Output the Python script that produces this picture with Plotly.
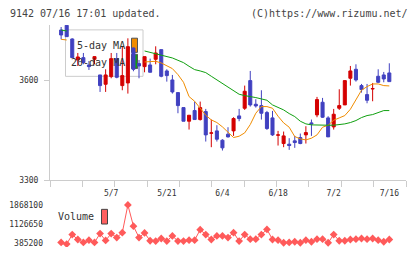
import plotly.graph_objects as go

# ---------------- data ----------------
dates = ["4/21", "4/22", "4/23", "4/24", "4/25", "4/28", "4/30", "5/1", "5/2", "5/7",
         "5/8", "5/9", "5/12", "5/13", "5/14", "5/15", "5/16", "5/19", "5/20", "5/21",
         "5/22", "5/23", "5/26", "5/27", "5/28", "5/29", "5/30", "6/2", "6/3", "6/4",
         "6/5", "6/6", "6/9", "6/10", "6/11", "6/12", "6/13", "6/16", "6/17", "6/18",
         "6/19", "6/20", "6/23", "6/24", "6/25", "6/26", "6/27", "6/30", "7/1", "7/2",
         "7/3", "7/4", "7/7", "7/8", "7/9", "7/10", "7/11", "7/14", "7/15", "7/16"]

open_ = [3752, 3766, 3725, 3662, 3669, 3647, 3664, 3617, 3589, 3612,
         3666, 3585, 3593, 3698, 3651, 3642, 3647, 3664, 3693, 3629,
         3602, 3564, 3519, 3478, 3510, 3483, 3507, 3442, 3449, 3421,
         3439, 3449, 3494, 3517, 3600, 3529, 3525, 3504, 3488, 3436,
         3411, 3409, 3419, 3429, 3437, 3473, 3497, 3535, 3488, 3461,
         3517, 3527, 3607, 3634, 3585, 3558, 3575, 3613, 3617, 3623]
high = [3761, 3768, 3727, 3683, 3683, 3659, 3673, 3617, 3634, 3683,
        3683, 3703, 3727, 3699, 3662, 3672, 3666, 3703, 3693, 3634,
        3617, 3564, 3519, 3496, 3537, 3537, 3515, 3483, 3466, 3424,
        3460, 3490, 3515, 3585, 3629, 3544, 3571, 3509, 3509, 3449,
        3447, 3427, 3434, 3441, 3463, 3483, 3551, 3548, 3493, 3515,
        3574, 3600, 3644, 3649, 3590, 3590, 3593, 3634, 3626, 3652]
low = [3724, 3731, 3669, 3644, 3649, 3632, 3649, 3566, 3566, 3607,
       3607, 3571, 3561, 3628, 3607, 3625, 3625, 3649, 3610, 3597,
       3561, 3502, 3478, 3453, 3483, 3480, 3417, 3400, 3417, 3390,
       3429, 3434, 3478, 3512, 3522, 3519, 3483, 3452, 3434, 3405,
       3400, 3392, 3398, 3409, 3411, 3434, 3490, 3488, 3431, 3453,
       3512, 3527, 3585, 3597, 3564, 3532, 3538, 3593, 3595, 3597]
close = [3737, 3732, 3669, 3671, 3654, 3642, 3672, 3585, 3617, 3666,
         3610, 3615, 3702, 3634, 3644, 3672, 3625, 3683, 3613, 3615,
         3566, 3525, 3478, 3496, 3483, 3519, 3437, 3443, 3424, 3398,
         3431, 3486, 3486, 3568, 3527, 3524, 3502, 3456, 3437, 3437,
         3434, 3405, 3414, 3411, 3444, 3470, 3543, 3490, 3431, 3499,
         3525, 3600, 3629, 3602, 3573, 3541, 3576, 3595, 3605, 3597]

# moving averages (None where hidden by the legend box)
ma5 = [3724, 3722, None, None, None, None, None, None, None, None,
       None, None, None, None, None, 3656, 3656, 3658, 3653, 3644,
       3636, 3618, 3595, 3552, 3538, 3517, 3496, 3482, 3474, 3461,
       3445, 3429, 3433, 3443, 3468, 3502, 3522, 3522, 3517, 3493,
       3473, 3460, 3432, 3425, 3422, 3427, 3437, 3460, 3466, 3481,
       3488, 3495, 3514, 3542, 3571, 3582, 3590, 3590, 3585, 3584]
ma20 = [3752, 3749, None, None, None, None, None, None, None, None,
        None, None, None, None, None, 3689, 3685, 3681, 3676, 3672,
        3668, 3661, 3654, 3643, 3633, 3629, 3624, 3613, 3602, 3590,
        3579, 3569, 3559, 3555, 3553, 3549, 3545, 3541, 3527, 3520,
        3512, 3501, 3492, 3478, 3470, 3467, 3466, 3466, 3466, 3466,
        3467, 3470, 3474, 3480, 3489, 3495, 3498, 3504, 3510, 3510]

volume = [423000, 360000, 724000, 536000, 423000, 511000, 423000, 762000, 498000, 762000,
          611000, 800000, 1868100, 1051000, 611000, 787000, 486000, 473000, 574000, 473000,
          674000, 473000, 473000, 511000, 511000, 913000, 724000, 536000, 674000, 674000,
          611000, 800000, 473000, 724000, 548000, 548000, 724000, 925000, 536000, 511000,
          410000, 423000, 448000, 410000, 511000, 448000, 548000, 548000, 410000, 724000,
          486000, 486000, 536000, 548000, 574000, 548000, 574000, 511000, 448000, 536000]

price_ticks = [3300, 3600]
volume_ticks = [385200, 1126650, 1868100]
date_labels = ["5/7", "5/21", "6/4", "6/18", "7/2", "7/16"]

# ---------------- layout helpers ----------------
W, H = 420, 259
L, R, T, B = 50, 14, 25, 7
PW, PH = W - L - R, H - T - B


def fx(p):
    return (p - L) / PW


def fy(p):
    return (H - B - p) / PH


MONO = "DejaVu Sans Mono"
UP, DOWN = "#d40000", "#4040c0"
ORANGE, GREEN, VOLC = "#f08c00", "#10a010", "#ff5a5a"
AXC = "#cccccc"

xi = list(range(len(dates)))
XR = [-2, 62]
grid_ticks = [XR[0] + k * (XR[1] - XR[0]) / 11 for k in range(12)]
label_pos = [dates.index(d) for d in date_labels]

fig = go.Figure()
fig.add_trace(go.Candlestick(
    x=xi, open=open_, high=high, low=low, close=close,
    increasing=dict(line=dict(color=UP, width=1), fillcolor=UP),
    decreasing=dict(line=dict(color=DOWN, width=1), fillcolor=DOWN),
    whiskerwidth=0, showlegend=False, hoverinfo="skip",
    xaxis="x", yaxis="y"))
fig.add_trace(go.Scatter(x=xi, y=ma5, mode="lines", line=dict(color=ORANGE, width=1),
                         connectgaps=False, showlegend=False, hoverinfo="skip",
                         xaxis="x", yaxis="y"))
fig.add_trace(go.Scatter(x=xi, y=ma20, mode="lines", line=dict(color=GREEN, width=1),
                         connectgaps=False, showlegend=False, hoverinfo="skip",
                         xaxis="x", yaxis="y"))
fig.add_trace(go.Scatter(x=xi, y=volume, mode="lines+markers",
                         line=dict(color=VOLC, width=1),
                         marker=dict(symbol="diamond", size=6, color=VOLC),
                         showlegend=False, hoverinfo="skip",
                         xaxis="x2", yaxis="y2"))

fig.update_layout(
    width=W, height=H,
    margin=dict(l=L, r=R, t=T, b=B, pad=0),
    paper_bgcolor="white", plot_bgcolor="white",
    boxgap=0.22,
    font=dict(family=MONO, size=8, color="#333333"),
    xaxis=dict(domain=[0, 1], range=XR, anchor="y", tickvals=grid_ticks,
               showticklabels=False, ticks="outside", ticklen=6, tickcolor=AXC,
               showline=True, linecolor=AXC, linewidth=1, showgrid=False,
               zeroline=False, rangeslider=dict(visible=False), fixedrange=True),
    yaxis=dict(domain=[fy(184), 1], range=[3300, 3767], tickvals=price_ticks,
               ticktext=[str(v) for v in price_ticks],
               ticks="outside", ticklen=5, tickcolor=AXC, showline=True,
               linecolor=AXC, linewidth=1, showgrid=False, zeroline=False,
               ticklabelstandoff=4, tickfont=dict(family=MONO, size=8, color="#333")),
    xaxis2=dict(domain=[0, 1], range=XR, anchor="y2", side="top",
                tickvals=label_pos, ticktext=date_labels, ticks="",
                showline=False, showgrid=False, zeroline=False,
                ticklabelstandoff=2,
                tickfont=dict(family=MONO, size=8, color="#333")),
    yaxis2=dict(domain=[0, fy(205)], range=[245600, 2019100], tickvals=volume_ticks,
                ticktext=[str(v) for v in volume_ticks],
                ticks="", showline=False, showgrid=False, zeroline=False,
                ticklabelstandoff=6, tickfont=dict(family=MONO, size=8, color="#333")),
)

ann = [
    dict(text="9142 07/16 17:01 updated.", x=fx(8), y=fy(13), xanchor="left",
         font=dict(size=10, color="#444")),
    dict(text="(C)https://www.rizumu.net/", x=fx(410), y=fy(13), xanchor="right",
         font=dict(size=10, color="#444")),
    dict(text="5-day MA", x=fx(127), y=fy(46), xanchor="right",
         font=dict(size=10, color="#333")),
    dict(text="20-day MA", x=fx(127), y=fy(63), xanchor="right",
         font=dict(size=10, color="#333")),
    dict(text="Volume", x=fx(96), y=fy(221), xanchor="right",
         font=dict(size=10, color="#333")),
]
for a in ann:
    a.update(xref="paper", yref="paper", yanchor="middle", showarrow=False)
    a["font"]["family"] = MONO
fig.update_layout(annotations=ann)

shapes = [
    dict(type="rect", x0=fx(65.5), x1=fx(143), y0=fy(30), y1=fy(77.5),
         line=dict(color="#cccccc", width=1), fillcolor="white", layer="below"),
    dict(type="rect", x0=fx(131.5), x1=fx(137.5), y0=fy(38.5), y1=fy(53),
         line=dict(color="#555", width=1), fillcolor=ORANGE, layer="below"),
    dict(type="rect", x0=fx(131.5), x1=fx(137.5), y0=fy(55), y1=fy(69.5),
         line=dict(color="#555", width=1), fillcolor=GREEN, layer="below"),
    dict(type="rect", x0=fx(101.5), x1=fx(107.5), y0=fy(213.5), y1=fy(228.5),
         line=dict(color="#444", width=1), fillcolor="#ff6060", layer="above"),
]
for s in shapes:
    s.update(xref="paper", yref="paper")
fig.update_layout(shapes=shapes)

fig.write_html("out.html")
